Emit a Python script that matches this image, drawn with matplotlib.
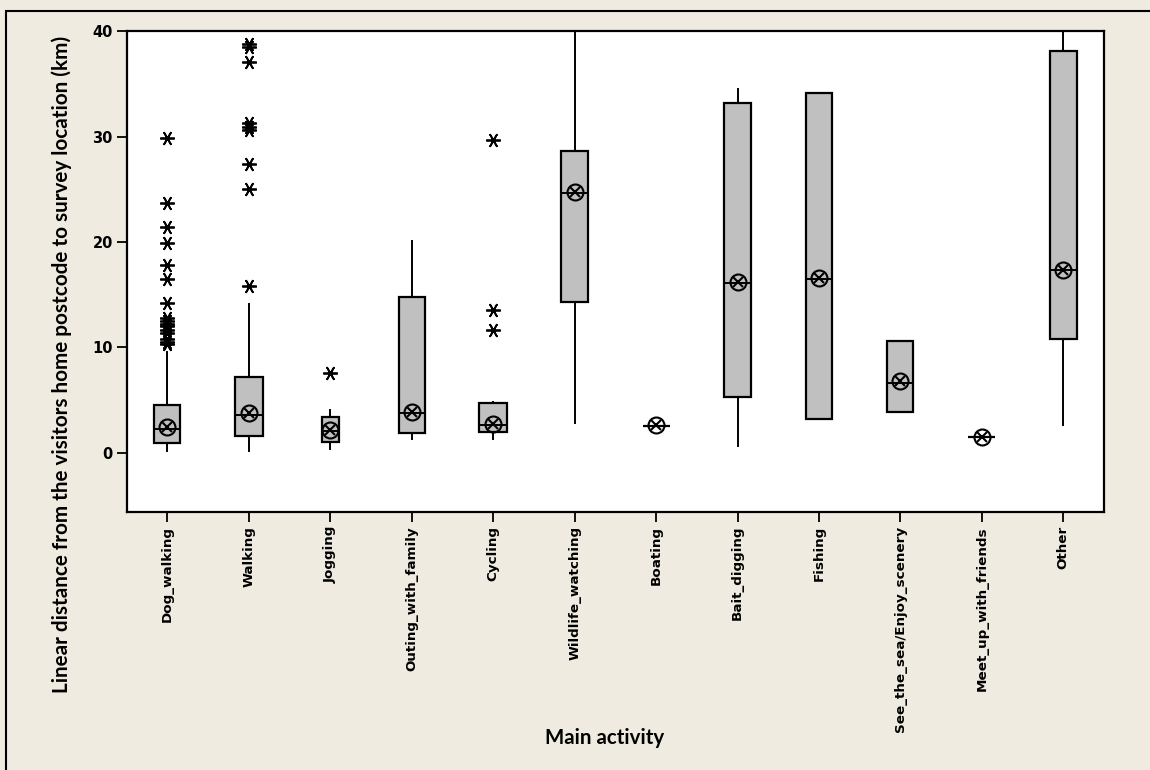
import matplotlib
matplotlib.use("Agg")
import matplotlib.pyplot as plt
from matplotlib.patches import Rectangle

activities = ["Dog_walking", "Walking", "Jogging", "Outing_with_family", "Cycling",
              "Wildlife_watching", "Boating", "Bait_digging", "Fishing",
              "See_the_sea/Enjoy_scenery", "Meet_up_with_friends", "Other"]

# box statistics per activity (km)
q1 = [0.9, 1.65, 1.07, 1.85, 2.02, 14.35, 2.6, 5.3, 3.2, 3.9, 1.5, 10.8]
median = [2.3, 3.57, 2.08, 3.76, 2.62, 24.6, 2.6, 16.1, 16.5, 6.6, 1.5, 17.3]
q3 = [4.55, 7.2, 3.4, 14.8, 4.7, 28.6, 2.6, 33.2, 34.15, 10.6, 1.5, 38.1]
whisker_low = [0.2, 0.2, 0.4, 1.35, 1.35, 2.8, 2.6, 0.7, 3.2, 3.9, 1.5, 2.65]
whisker_high = [9.6, 14.15, 4.1, 20.1, 4.85, 55.0, 2.6, 34.5, 34.15, 10.6, 1.5, 55.0]
mean = [2.45, 3.75, 2.2, 3.9, 2.75, 24.7, 2.65, 16.2, 16.6, 6.8, 1.55, 17.35]
outliers = [
    [29.9, 23.7, 21.4, 19.9, 17.8, 16.5, 14.2, 12.8, 12.5, 12.2, 12.0, 11.7,
     11.4, 10.8, 10.5, 10.3],
    [38.8, 38.5, 37.1, 31.3, 30.9, 30.6, 27.4, 25.0, 15.8],
    [7.55],
    [],
    [29.7, 13.6, 11.7],
    [], [], [], [], [], [], [],
]
box_width = [0.32, 0.34, 0.21, 0.32, 0.35, 0.33, 0.33, 0.34, 0.32, 0.32, 0.33, 0.33]

bg = "#EFEBE1"
W, H = 1150, 770
fig = plt.figure(figsize=(W / 100, H / 100), dpi=100, facecolor=bg)
ax = fig.add_axes([0.1102, 0.335, 0.96 - 0.1102, 0.9597 - 0.335])
ax.set_facecolor("white")

stats = []
for i, name in enumerate(activities):
    stats.append(dict(label=name, med=median[i], q1=q1[i], q3=q3[i],
                      whislo=whisker_low[i], whishi=whisker_high[i],
                      fliers=outliers[i], mean=mean[i]))

positions = list(range(1, len(activities) + 1))
ax.bxp(stats, positions=positions, widths=box_width, showcaps=False,
       showmeans=False, patch_artist=True,
       boxprops=dict(facecolor="#C0C0C0", edgecolor="black", linewidth=1.6),
       medianprops=dict(color="black", linewidth=1.4),
       whiskerprops=dict(color="black", linewidth=1.4),
       flierprops=dict(marker=(6, 2, 90), markersize=10.5, markeredgecolor="black",
                       markeredgewidth=1.3, linestyle="none"))

# mean symbol: circle with a cross
ax.plot(positions, mean, linestyle="none", marker="o", markersize=11.5,
        markerfacecolor="none", markeredgecolor="black", markeredgewidth=1.5, zorder=5)
ax.plot(positions, mean, linestyle="none", marker="x", markersize=7.5,
        markeredgecolor="black", markeredgewidth=1.5, zorder=5)

ax.set_xlim(0.5, 12.5)
ax.set_ylim(-5.6, 40)
ax.set_yticks([0, 10, 20, 30, 40])
ax.set_xticks(positions)
ax.set_xticklabels(activities, rotation=90, fontsize=9.7, fontweight="bold",
                   family="DejaVu Sans")
for lab in ax.get_yticklabels():
    lab.set_fontsize(10.5)
    lab.set_fontweight("bold")
ax.tick_params(direction="out", length=7, width=1.3, pad=3)
for s in ax.spines.values():
    s.set_linewidth(1.6)

label_font = ["Lato", "DejaVu Sans"]
xlab = fig.text(604.5 / W, 1 - 738 / H, "Main activity", ha="center", va="center",
                fontsize=13, fontweight="bold", family=label_font)
ylab = fig.text(62 / W, 1 - 364 / H,
                "Linear distance from the visitors home postcode to survey location (km)",
                rotation=90, ha="center", va="center", fontsize=13, fontweight="bold",
                family=label_font)

# size the axis titles to their drawn length
fig.canvas.draw()
r = fig.canvas.get_renderer()
xlab.set_fontsize(13 * 119 / xlab.get_window_extent(r).width)
ylab.set_fontsize(13 * 655 / ylab.get_window_extent(r).height)

# outer frame (top and left edges visible)
fig.patches.append(Rectangle((6 / W, -0.1), 1.2, 1 - 11 / H + 0.1,
                             transform=fig.transFigure, fill=False,
                             edgecolor="black", linewidth=1.5))

fig.savefig("out.png", dpi=100, facecolor=bg)
